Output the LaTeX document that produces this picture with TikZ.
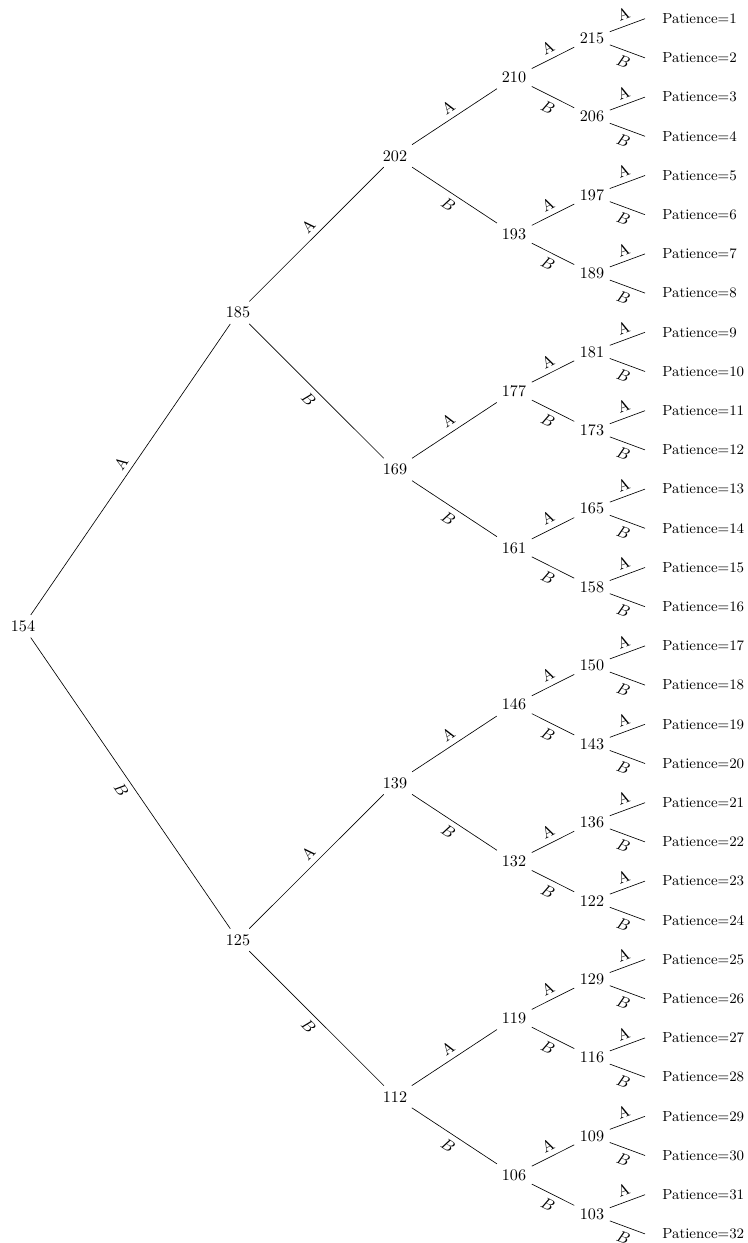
\documentclass[tikz,border=0pt]{standalone}
\begin{document}
\begin{tikzpicture}[x=0.62pt,y=-0.62pt,
  vtx/.style={inner sep=0.3333em},
  la/.style={midway,sloped,above},
  lb/.style={midway,sloped,below},
  leaf/.style={anchor=west,inner sep=0pt,font=\small},
  edge/.style={line width=0.4pt}]
\useasboundingbox (0,0) rectangle (748,1243);
% nodes
\node[vtx] (v0) at (23,626.3) {154};
\foreach \v [count=\j from 0] in {185,125}
  \node[vtx] (v1-\j) at (238,{312.7+627.2*\j}) {\v};
\foreach \v [count=\j from 0] in {202,169,139,112}
  \node[vtx] (v2-\j) at (395,{155.9+313.6*\j}) {\v};
\foreach \v [count=\j from 0] in {210,193,177,161,146,132,119,106}
  \node[vtx] (v3-\j) at (514,{77.5+156.8*\j}) {\v};
\foreach \v [count=\j from 0] in {215,206,197,189,181,173,165,158,150,143,136,122,129,116,109,103}
  \node[vtx] (v4-\j) at (592,{38.3+78.4*\j}) {\v};
\foreach \k in {1,...,32}{
  \coordinate (c\k) at (645,{18.7+39.2*(\k-1)});
  \node[leaf] (t\k) at (662,{18.7+39.2*(\k-1)}) {Patience=\k};
}
% edges
\draw[edge] (v0) -- node[la]{A} (v1-0);
\draw[edge] (v0) -- node[lb]{$B$} (v1-1);
\foreach \p in {0,1}{
  \pgfmathtruncatemacro\ca{2*\p}\pgfmathtruncatemacro\cb{2*\p+1}
  \draw[edge] (v1-\p) -- node[la]{A} (v2-\ca);
  \draw[edge] (v1-\p) -- node[lb]{$B$} (v2-\cb);
}
\foreach \p in {0,...,3}{
  \pgfmathtruncatemacro\ca{2*\p}\pgfmathtruncatemacro\cb{2*\p+1}
  \draw[edge] (v2-\p) -- node[la]{A} (v3-\ca);
  \draw[edge] (v2-\p) -- node[lb]{$B$} (v3-\cb);
}
\foreach \p in {0,...,7}{
  \pgfmathtruncatemacro\ca{2*\p}\pgfmathtruncatemacro\cb{2*\p+1}
  \draw[edge] (v3-\p) -- node[la]{A} (v4-\ca);
  \draw[edge] (v3-\p) -- node[lb]{$B$} (v4-\cb);
}
\foreach \p in {0,...,15}{
  \pgfmathtruncatemacro\ca{2*\p+1}\pgfmathtruncatemacro\cb{2*\p+2}
  \draw[edge] (v4-\p) -- node[la]{A} (c\ca);
  \draw[edge] (v4-\p) -- node[lb]{$B$} (c\cb);
}
\end{tikzpicture}
\end{document}
